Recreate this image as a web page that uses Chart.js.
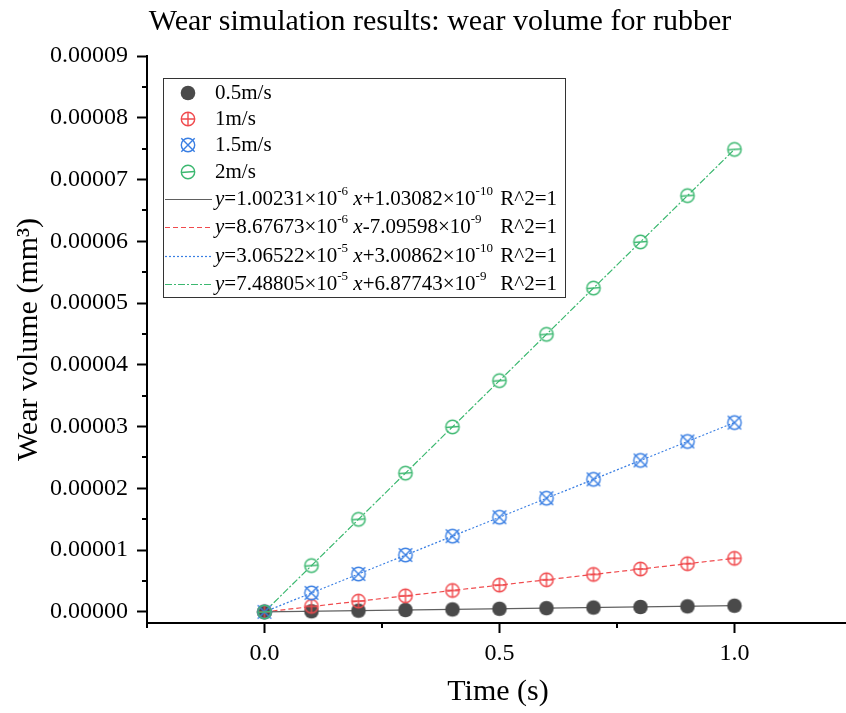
<!DOCTYPE html>
<html>
<head>
<meta charset="utf-8">
<script src="https://cdn.jsdelivr.net/npm/chart.js@4/dist/chart.umd.min.js"></script>
<style>
  html, body { margin: 0; padding: 0; background: #fff; overflow: hidden; }
  #wrap { width: 860px; height: 713px; }
</style>
</head>
<body>
<div id="wrap"><canvas id="wearChart" width="860" height="713"></canvas></div>
<script>
const FONT = '"Liberation Serif", "Times New Roman", serif';

// time points (s)
const times = [0, 0.1, 0.2, 0.3, 0.4, 0.5, 0.6, 0.7, 0.8, 0.9, 1.0];

// wear volume (mm^3)
const wear05 = [0, 1.0e-7, 2.0e-7, 3.0e-7, 4.0e-7, 5.0e-7, 6.0e-7, 7.0e-7, 8.0e-7, 9.0e-7, 1.0e-6];
const wear1  = [0, 0.9e-6, 1.75e-6, 2.6e-6, 3.47e-6, 4.34e-6, 5.2e-6, 6.07e-6, 6.94e-6, 7.8e-6, 8.67e-6];
const wear15 = [0, 3.07e-6, 6.13e-6, 9.2e-6, 1.226e-5, 1.533e-5, 1.84e-5, 2.146e-5, 2.452e-5, 2.759e-5, 3.065e-5];
const wear2  = [0, 7.49e-6, 1.498e-5, 2.246e-5, 2.995e-5, 3.744e-5, 4.493e-5, 5.242e-5, 5.99e-5, 6.739e-5, 7.488e-5];

// linear fit lines, start and end values over 0..1 s
const fitX = [0, 1];
const fitStart = [1.0e-10, -7.1e-9, 3.0e-10, 6.9e-9];
const fitEnd = [1.0024e-6, 8.6696e-6, 3.0652e-5, 7.4887e-5];

const chartTitle = 'Wear simulation results: wear volume for rubber';
const yTitle = 'Wear volume (mm³)';
const xTitle = 'Time (s)';
const seriesNames = ['0.5m/s', '1m/s', '1.5m/s', '2m/s'];
const fitLabels = [
  [['y', 'i'], ['=1.00231×10'], ['-6', 'sup'], [' '], ['x', 'i'], ['+1.03082×10'], ['-10', 'sup']],
  [['y', 'i'], ['=8.67673×10'], ['-6', 'sup'], [' '], ['x', 'i'], ['-7.09598×10'], ['-9', 'sup']],
  [['y', 'i'], ['=3.06522×10'], ['-5', 'sup'], [' '], ['x', 'i'], ['+3.00862×10'], ['-10', 'sup']],
  [['y', 'i'], ['=7.48805×10'], ['-5', 'sup'], [' '], ['x', 'i'], ['+6.87743×10'], ['-9', 'sup']]
];
const fitR2 = 'R^2=1';

const xMajorTicks = [0, 0.5, 1.0];
const xMinorTicks = [-0.25, 0.25, 0.75, 1.25];
const yMajorTicks = [0, 0.00001, 0.00002, 0.00003, 0.00004, 0.00005, 0.00006, 0.00007, 0.00008, 0.00009];
const yMinorTicks = [0.000005, 0.000015, 0.000025, 0.000035, 0.000045, 0.000055, 0.000065, 0.000075, 0.000085];

const colors = ['#4a4a4a', '#f04a4d', '#3a7fe3', '#3cb870'];
const lineColors = ['#606060', '#f04a4d', '#3a7fe3', '#3cb870'];
const dashes = [[], [5, 3], [2, 2], [7, 2, 2, 2]];

// marker images: filled dot, circle+plus, circle+x, circle+dash
const makeMarker = (kind, color) => {
  const c = document.createElement('canvas');
  c.width = 18; c.height = 18;
  const g = c.getContext('2d');
  const r = kind === 'dot' ? 7.3 : 6.7;
  g.strokeStyle = color; g.fillStyle = color; g.lineWidth = 1.4;
  g.beginPath(); g.arc(9, 9, r, 0, Math.PI * 2);
  if (kind === 'dot') { g.fill(); return c; }
  g.stroke();
  g.beginPath();
  if (kind === 'plus') { g.moveTo(9 - r, 9); g.lineTo(9 + r, 9); g.moveTo(9, 9 - r); g.lineTo(9, 9 + r); }
  if (kind === 'cross') { g.moveTo(9 - r, 9 - r); g.lineTo(9 + r, 9 + r); g.moveTo(9 + r, 9 - r); g.lineTo(9 - r, 9 + r); }
  if (kind === 'dash') { g.moveTo(9 - r, 9.5); g.lineTo(9 + r, 8.5); }
  g.stroke();
  return c;
};
const markers = [
  makeMarker('dot', colors[0]), makeMarker('plus', colors[1]),
  makeMarker('cross', colors[2]), makeMarker('dash', colors[3])
];

const pts = (ys) => ys.map((y, i) => ({ x: times[i], y }));
const allWear = [wear05, wear1, wear15, wear2];

const datasets = [];
allWear.forEach((w, i) => {
  datasets.push({
    label: seriesNames[i], data: pts(w), showLine: false,
    pointStyle: markers[i], pointRadius: 7, order: 4 - i
  });
});
fitStart.forEach((s, i) => {
  datasets.push({
    label: 'fit ' + seriesNames[i],
    data: [{ x: fitX[0], y: s }, { x: fitX[1], y: fitEnd[i] }],
    showLine: true, pointRadius: 0, borderColor: lineColors[i],
    borderWidth: 1.2, borderDash: dashes[i], order: 10 + i
  });
});

const richText = (ctx, x, y, parts, size) => {
  let cx = x;
  parts.forEach(([t, s]) => {
    const sup = s === 'sup';
    ctx.font = (s === 'i' ? 'italic ' : '') + (sup ? Math.round(size * 0.62) : size) + 'px ' + FONT;
    ctx.fillText(t, cx, sup ? y - size * 0.36 : y);
    cx += ctx.measureText(t).width;
  });
};

const extras = {
  id: 'extras',
  afterDraw(chart) {
    const { ctx, chartArea, scales: { x, y } } = chart;
    ctx.save();
    // minor ticks
    ctx.strokeStyle = '#000'; ctx.lineWidth = 2;
    ctx.beginPath();
    yMinorTicks.forEach(v => {
      const py = Math.round(y.getPixelForValue(v));
      ctx.moveTo(chartArea.left, py); ctx.lineTo(chartArea.left - 5, py);
    });
    xMinorTicks.forEach(v => {
      const px = Math.round(x.getPixelForValue(v));
      ctx.moveTo(px, chartArea.bottom); ctx.lineTo(px, chartArea.bottom + 5);
    });
    ctx.stroke();

    // titles
    ctx.fillStyle = '#000';
    ctx.textAlign = 'center';
    ctx.textBaseline = 'middle';
    ctx.font = '30px ' + FONT;
    ctx.fillText(chartTitle, 440, 22);
    ctx.fillText(xTitle, 498, 692);
    ctx.save();
    ctx.translate(29, (chartArea.top + chartArea.bottom) / 2);
    ctx.rotate(-Math.PI / 2);
    ctx.fillText(yTitle, 0, 0);
    ctx.restore();
    ctx.textAlign = 'left';

    // legend
    const L = { left: 163, top: 78, right: 565, bottom: 297 };
    ctx.fillStyle = '#fff';
    ctx.fillRect(L.left, L.top, L.right - L.left, L.bottom - L.top);
    ctx.strokeStyle = '#333'; ctx.lineWidth = 1;
    ctx.strokeRect(L.left + 0.5, L.top + 0.5, L.right - L.left, L.bottom - L.top);
    const rows = [93, 119, 145, 172, 199, 227, 256, 284];
    seriesNames.forEach((n, i) => {
      const m = markers[i];
      ctx.drawImage(m, 188 - m.width / 2, rows[i] - m.height / 2);
      ctx.font = '21px ' + FONT;
      ctx.fillStyle = '#000';
      ctx.fillText(n, 215, rows[i]);
    });
    fitLabels.forEach((parts, i) => {
      const ry = rows[4 + i];
      ctx.strokeStyle = lineColors[i]; ctx.lineWidth = 1.2;
      ctx.setLineDash(dashes[i]);
      ctx.beginPath(); ctx.moveTo(165, ry + 0.5); ctx.lineTo(212, ry + 0.5); ctx.stroke();
      ctx.setLineDash([]);
      ctx.fillStyle = '#000';
      richText(ctx, 215, ry, parts, 21);
      ctx.font = '21px ' + FONT;
      ctx.textAlign = 'right';
      ctx.fillText(fitR2, 557, ry);
      ctx.textAlign = 'left';
    });
    ctx.restore();
  }
};

new Chart(document.getElementById('wearChart'), {
  type: 'scatter',
  data: { datasets },
  options: {
    responsive: false,
    animation: false,
    devicePixelRatio: 1,
    layout: { padding: { left: 0, right: 8, top: 56, bottom: 0 } },
    plugins: {
      legend: { display: false },
      tooltip: { enabled: false },
      title: { display: false }
    },
    scales: {
      x: {
        type: 'linear', min: -0.25, max: 1.25,
        afterBuildTicks: s => { s.ticks = xMajorTicks.map(v => ({ value: v })); },
        afterFit: s => { s.height = 90; },
        grid: { display: true, drawOnChartArea: false, drawTicks: true, tickLength: 10, tickColor: '#000', tickWidth: 2 },
        border: { display: true, color: '#000', width: 2 },
        ticks: {
          color: '#000', font: { family: FONT, size: 24 }, padding: 6, maxRotation: 0,
          callback: v => v.toFixed(1)
        }
      },
      y: {
        type: 'linear', min: -0.0000018, max: 0.00009,
        afterBuildTicks: s => { s.ticks = yMajorTicks.map(v => ({ value: v })); },
        afterFit: s => { s.width = 147; },
        grid: { display: true, drawOnChartArea: false, drawTicks: true, tickLength: 10, tickColor: '#000', tickWidth: 2 },
        border: { display: true, color: '#000', width: 2 },
        ticks: {
          color: '#000', font: { family: FONT, size: 24 }, padding: 9,
          callback: v => v.toFixed(5)
        }
      }
    }
  },
  plugins: [extras]
});
</script>
</body>
</html>
